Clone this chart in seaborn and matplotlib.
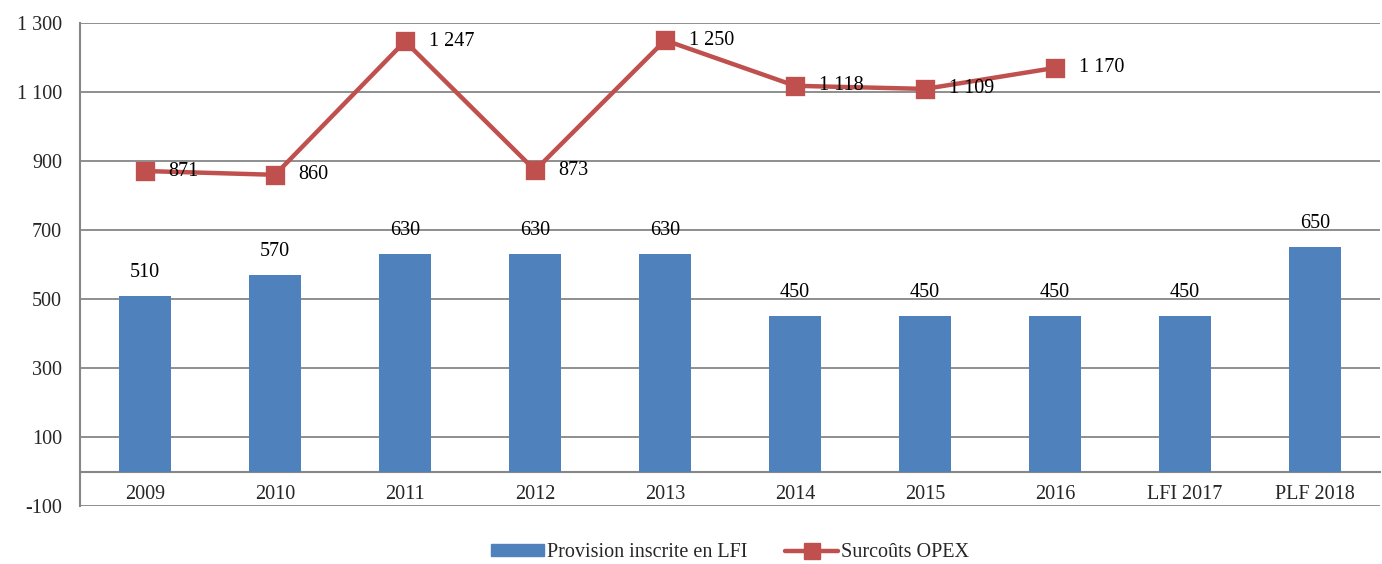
import numpy as np
import pandas as pd
import matplotlib
matplotlib.use("Agg")
import matplotlib.pyplot as plt
import seaborn as sns
from matplotlib.patches import Patch
from matplotlib.lines import Line2D
from matplotlib.ticker import FuncFormatter, FixedLocator

# ==========================================
# DATA
# ==========================================

categories = ["2009", "2010", "2011", "2012", "2013", "2014", "2015", "2016", "LFI 2017", "PLF 2018"]
provision = [510, 570, 630, 630, 630, 450, 450, 450, 450, 650]
opex_years = ["2009", "2010", "2011", "2012", "2013", "2014", "2015", "2016"]
opex = [871, 860, 1247, 873, 1250, 1118, 1109, 1170]

bar_color = "#4F81BD"
line_color = "#C0504D"
grid_color = "#868686"
fs = 14.5

def fr(v):
    return f"{int(v):,}".replace(",", " ")

# ==========================================
# PLOT
# ==========================================

sns.set_theme(style="white")
plt.rcParams["font.family"] = ["Liberation Serif", "DejaVu Serif"]
plt.rcParams["font.size"] = fs

fig = plt.figure(figsize=(13.82, 5.64), dpi=100)
ax = fig.add_axes([0.0579, 0.1028, 0.9407, 0.8564])

df_bar = pd.DataFrame({"cat": categories, "val": provision})
sns.barplot(data=df_bar, x="cat", y="val", order=categories, color=bar_color,
            width=0.4, saturation=1, linewidth=0, ax=ax, zorder=3)

df_line = pd.DataFrame({"cat": opex_years, "val": opex})
sns.pointplot(data=df_line, x="cat", y="val", order=categories, color=line_color,
              markers="s", markersize=11, linewidth=3.2, ax=ax, zorder=4)

# bar labels
for bars in ax.containers:
    ax.bar_label(bars, labels=[fr(v) for v in provision], padding=10,
                 fontsize=fs, color="black")

# line labels
for i, v in enumerate(opex):
    ax.annotate(fr(v), (i, v), xytext=(17, 0), textcoords="offset points",
                ha="left", va="center", fontsize=fs, color="black", zorder=5)

# axes
ax.set_xlim(-0.5, len(categories) - 0.5)
ax.set_ylim(-100, 1300)
ax.yaxis.set_major_locator(FixedLocator(np.arange(-100, 1301, 200)))
ax.yaxis.set_major_formatter(FuncFormatter(lambda v, p: fr(v)))
ax.grid(axis="y", color=grid_color, linewidth=1.3, zorder=0)
ax.grid(axis="x", visible=False)
ax.set_axisbelow(True)

for s in ["top", "right"]:
    ax.spines[s].set_visible(False)
ax.spines["left"].set_color(grid_color)
ax.spines["left"].set_linewidth(1.5)
ax.spines["bottom"].set_position(("data", 0))
ax.spines["bottom"].set_color(grid_color)
ax.spines["bottom"].set_linewidth(1.5)

ax.tick_params(axis="y", length=5, color=grid_color, width=1.3, pad=8, labelsize=fs)
ax.tick_params(axis="x", which="major", length=0, pad=10, labelsize=fs)
ax.set_xticks(np.arange(-0.5, len(categories), 1), minor=True)
ax.tick_params(axis="x", which="minor", length=5, color=grid_color, width=1.3)
ax.set_xlabel("")
ax.set_ylabel("")

# legend
handles = [
    Patch(facecolor=bar_color, edgecolor=bar_color),
    Line2D([0], [0], color=line_color, linewidth=3.2, marker="s", markersize=11),
]
ax.legend(handles, ["Provision inscrite en LFI", "Surcoûts OPEX"], loc="center",
          bbox_to_anchor=(0.5, -0.097), ncol=2, frameon=False, fontsize=fs,
          handlelength=2.6, handleheight=0.55, handletextpad=0.15, columnspacing=1.9)

plt.savefig("out.png", dpi=100)
